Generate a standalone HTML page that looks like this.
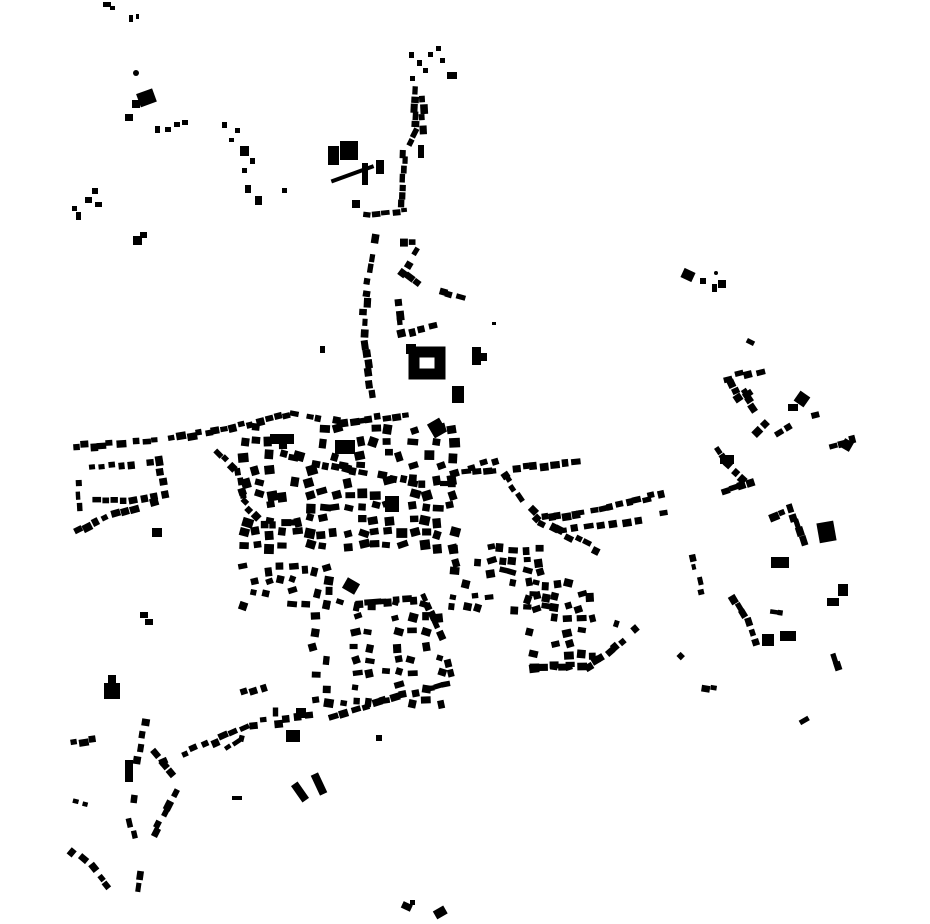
<!DOCTYPE html>
<html><head><meta charset="utf-8"><style>
html,body{margin:0;padding:0;background:#fff;width:930px;height:924px;overflow:hidden}
svg{display:block}
</style></head><body>
<svg id="s" width="930" height="924" viewBox="0 0 930 924" xmlns="http://www.w3.org/2000/svg">
<g id="g" fill="#000">
<rect x="103" y="2" width="8" height="5"/><rect x="110" y="6" width="5" height="4"/>
<rect x="129" y="15" width="4" height="7"/><rect x="136" y="14" width="3" height="5"/>
<circle cx="136" cy="73" r="3"/>
<rect x="138" y="91" width="17" height="14" transform="rotate(-20 146 98)"/>
<rect x="132" y="100" width="8" height="8"/><rect x="125" y="114" width="8" height="7"/>
<rect x="155" y="126" width="5" height="7"/><rect x="165" y="127" width="6" height="5"/><rect x="174" y="122" width="6" height="5"/><rect x="182" y="120" width="6" height="5"/>
<rect x="222" y="122" width="5" height="6"/><rect x="235" y="128" width="5" height="5"/><rect x="229" y="138" width="5" height="4"/>
<rect x="240" y="146" width="9" height="10"/><rect x="250" y="158" width="5" height="6"/><rect x="242" y="168" width="5" height="5"/>
<rect x="245" y="185" width="6" height="8"/><rect x="255" y="196" width="7" height="9"/><rect x="282" y="188" width="5" height="5"/>
<rect x="92" y="188" width="6" height="6"/><rect x="85" y="197" width="7" height="6"/><rect x="95" y="202" width="7" height="5"/><rect x="72" y="206" width="5" height="5"/><rect x="76" y="212" width="5" height="8"/>
<rect x="133" y="236" width="9" height="9"/><rect x="140" y="232" width="7" height="6"/>
<rect x="409" y="52" width="5" height="6"/><rect x="417" y="60" width="5" height="6"/><rect x="428" y="52" width="5" height="5"/><rect x="436" y="46" width="5" height="5"/><rect x="440" y="58" width="5" height="5"/><rect x="423" y="68" width="5" height="5"/><rect x="447" y="72" width="10" height="7"/><rect x="410" y="76" width="5" height="5"/>
<rect x="328" y="146" width="11" height="19"/><rect x="340" y="141" width="18" height="19"/>
<rect x="330" y="172" width="45" height="4" transform="rotate(-20 352 174)"/>
<rect x="362" y="163" width="6" height="22"/><rect x="376" y="160" width="8" height="14"/><rect x="352" y="200" width="8" height="8"/>
<rect x="418" y="145" width="6" height="13"/>
<rect x="414" y="352" width="26" height="22" fill="none" stroke="#000" stroke-width="11"/>
<rect x="406" y="344" width="10" height="10"/>
<rect x="472" y="347" width="9" height="18"/><rect x="478" y="353" width="9" height="8"/>
<rect x="452" y="386" width="12" height="17"/>
<rect x="682" y="270" width="12" height="10" transform="rotate(25 688 275)"/>
<rect x="700" y="278" width="6" height="6"/><rect x="712" y="284" width="5" height="8"/><rect x="718" y="280" width="8" height="8"/><circle cx="716" cy="273" r="2"/>
<rect x="796" y="393" width="12" height="12" transform="rotate(35 802 399)"/>
<rect x="788" y="404" width="10" height="7"/>
<rect x="818" y="522" width="17" height="20" transform="rotate(-10 826 532)"/>
<rect x="771" y="557" width="18" height="11"/>
<rect x="838" y="584" width="10" height="12"/><rect x="827" y="598" width="12" height="8"/>
<rect x="762" y="634" width="12" height="12"/><rect x="780" y="631" width="16" height="10"/>
<rect x="430" y="420" width="14" height="16" transform="rotate(-30 437 428)"/>
<rect x="270" y="434" width="24" height="10"/><rect x="335" y="440" width="20" height="14"/>
<rect x="385" y="496" width="14" height="16"/>
<rect x="152" y="528" width="10" height="9"/>
<rect x="104" y="683" width="16" height="16"/><rect x="108" y="675" width="8" height="8"/>
<rect x="125" y="760" width="8" height="22"/>
<rect x="290" y="788" width="20" height="8" transform="rotate(55 300 792)"/>
<rect x="308" y="780" width="22" height="8" transform="rotate(65 319 784)"/>
<rect x="286" y="730" width="14" height="12"/><rect x="296" y="708" width="10" height="10"/>
<rect x="376" y="735" width="6" height="6"/><rect x="232" y="796" width="10" height="4"/>
<rect x="402" y="903" width="10" height="7" transform="rotate(25 407 906)"/><rect x="410" y="900" width="5" height="5"/><rect x="434" y="908" width="12" height="9" transform="rotate(-30 440 912)"/>
<rect x="140" y="612" width="8" height="6"/><rect x="145" y="619" width="8" height="6"/>
<rect x="320" y="346" width="5" height="7"/><rect x="492" y="322" width="4" height="3"/>
<rect x="799" y="718" width="10" height="5" transform="rotate(-30 804 720)"/>
<rect x="344" y="580" width="14" height="12" transform="rotate(30 351 586)"/>
<rect x="720" y="455" width="14" height="9"/><rect x="842" y="440" width="10" height="10" transform="rotate(30 847 445)"/>
</g>
</svg>
<script>
(function(){
var g=document.getElementById('g');var seed=7;
function r(){seed=(seed*9301+49297)%233280;return seed/233280;}
function R(x,y,w,h,a){var e=document.createElementNS('http://www.w3.org/2000/svg','rect');
e.setAttribute('x',x.toFixed(1));e.setAttribute('y',y.toFixed(1));e.setAttribute('width',w);e.setAttribute('height',h);
if(a)e.setAttribute('transform','rotate('+a.toFixed(0)+' '+(x+w/2).toFixed(1)+' '+(y+h/2).toFixed(1)+')');g.appendChild(e);}
function L(pts,step,sz,jit){sz=(sz||6)+1;jit=jit||3;
for(var i=0;i<pts.length-1;i++){var x1=pts[i][0],y1=pts[i][1],x2=pts[i+1][0],y2=pts[i+1][1];
var d=Math.hypot(x2-x1,y2-y1),n=Math.max(1,Math.round(d/step)),a=Math.atan2(y2-y1,x2-x1)*180/Math.PI;
for(var k=0;k<n;k++){if(r()<0.08)continue;var t=k/n;var w=sz-1+r()*4,h=sz-2+r()*3;
R(x1+(x2-x1)*t+(r()-.5)*jit,y1+(y2-y1)*t+(r()-.5)*jit,w.toFixed(1),h.toFixed(1),a);}}}
function A(x1,y1,x2,y2,step,p,sz){sz=(sz||6)+1;for(var y=y1;y<y2;y+=step)for(var x=x1;x<x2;x+=step){if(r()>p)continue;
R(x+(r()-.5)*5,y+(r()-.5)*5,(sz-1+r()*4).toFixed(1),(sz-2+r()*4).toFixed(1),(r()-.5)*40);}}
L([[412,88],[410,130],[400,150],[398,210]],9,6,4);
L([[418,95],[420,135]],10,6,3);
L([[356,210],[372,212],[412,208]],9,5,2);
L([[372,235],[362,300],[360,340],[368,400]],11,6,4);
L([[390,240],[418,240],[400,270],[420,285],[465,298]],10,6,4);
L([[395,300],[398,330],[440,320]],12,6,4);
L([[72,443],[160,437],[230,425],[290,410],[340,420],[410,410]],9,6,4);
L([[90,465],[155,458],[160,490],[120,498],[85,498]],10,6,3);
L([[74,528],[110,510],[158,496]],10,6,3);
L([[74,470],[76,515]],12,5,3);
L([[215,450],[235,470],[240,500],[260,520],[300,520]],9,6,3);
A(240,425,460,545,13,0.65,7);
L([[290,455],[420,480],[460,480]],10,6,5);
L([[462,470],[580,458]],10,6,4);
L([[500,470],[520,500],[540,520],[600,550]],10,6,5);
L([[540,515],[600,505],[665,490]],8,6,4);
L([[548,530],[670,510]],12,6,4);
L([[450,470],[500,455],[510,445]],10,6,4);
A(240,565,330,610,12,0.6,6);
A(310,600,450,700,14,0.6,6);
A(450,545,545,610,12,0.65,6);
A(528,580,600,665,12,0.55,6);
L([[530,663],[585,662],[605,650],[640,620]],9,6,3);
L([[355,600],[420,595],[440,640],[450,680]],10,6,3);
L([[140,720],[132,770],[126,820],[135,860],[130,895]],12,6,5);
L([[160,760],[200,742],[250,720],[330,712],[400,690],[450,680]],11,6,5);
L([[240,690],[270,680],[270,720]],10,6,4);
L([[70,740],[100,735]],10,6,3);L([[150,750],[175,780],[160,810],[145,840]],12,6,4);
L([[72,800],[92,805]],10,5,3);L([[70,848],[90,865],[110,890]],12,6,4);
L([[225,745],[240,735],[260,740]],10,5,3);
L([[735,335],[755,345]],10,5,3);L([[725,375],[765,365]],10,6,4);L([[740,390],[760,420],[745,435]],10,6,4);
L([[728,380],[735,395],[750,385]],8,6,3);
L([[775,430],[800,415],[820,410]],10,6,3);L([[828,442],[858,434]],10,6,3);
L([[715,447],[725,462],[745,480],[715,490]],9,6,3);
L([[770,512],[787,505],[800,545]],9,6,3);
L([[690,555],[700,600]],12,5,3);L([[730,595],[745,620],[755,650]],11,6,4);
L([[770,610],[785,612]],8,5,2);L([[830,655],[835,670]],8,6,2);
L([[670,645],[685,660]],12,6,3);L([[700,685],[720,688]],10,5,3);
L([[615,620],[640,628]],10,5,3);
})();
</script>
</body></html>
